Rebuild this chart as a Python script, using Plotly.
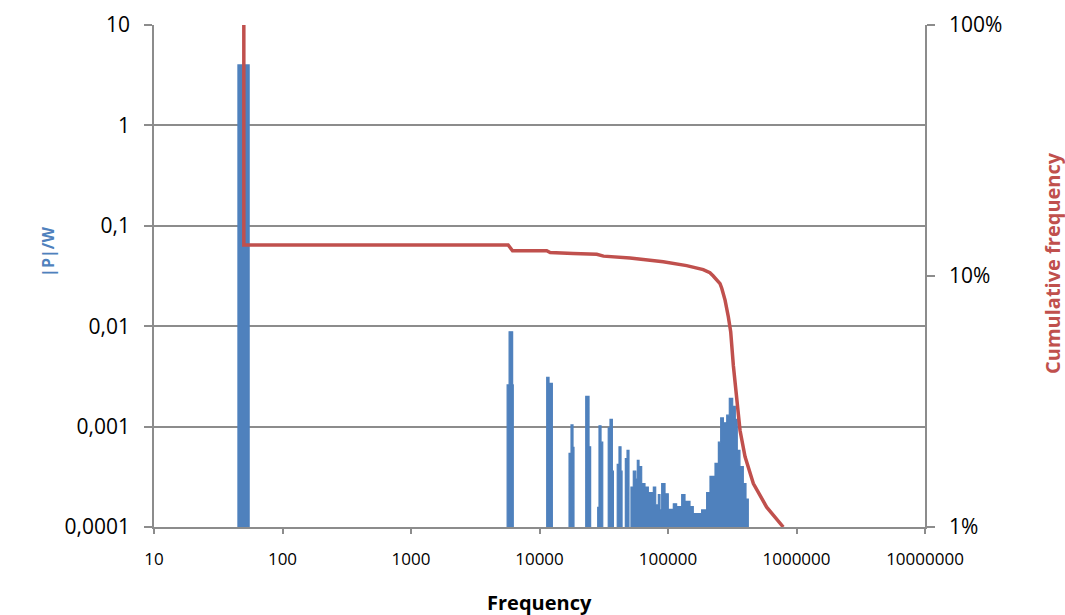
import plotly.graph_objects as go

BLUE = "#4F81BD"
RED = "#C0504D"
GRID = "#8C8C8C"

# ---- data -------------------------------------------------------------
FLOOR = 1e-6  # "no signal" level (below the visible axis range)

# spectrum: step start frequency (Hz) and |P|/W amplitude of each step
spec_freq = [10, 45, 55,
             5600, 5800, 6180, 6250,
             11380, 11860, 12590,
             16980, 17590, 18230, 18550,
             22900, 24290, 25000,
             28380, 29050, 30120, 31050,
             34270, 35370, 36900, 37600,
             40270, 41560, 43090, 43900,
             46560, 48000, 49700,
             51500, 53700, 56100, 57700, 59500, 62400, 66200, 70300, 76900,
             80200, 84100, 86700, 89300, 94800, 100500, 110000, 116700,
             127800, 135600, 148300, 157300, 167100, 182700, 199900, 212200,
             232200, 246600, 257000, 269800, 286400, 300000, 318600, 334100,
             346000, 363000, 385500, 404400, 421600]
spec_amp = [FLOOR, 4.0, FLOOR,
            0.0026, 0.0088, 0.0026, FLOOR,
            0.0031, 0.0027, FLOOR,
            0.00054, 0.00104, 0.00062, FLOOR,
            0.0020, 0.00063, FLOOR,
            0.000157, 0.00102, 0.00070, FLOOR,
            0.00097, 0.00118, 0.00036, FLOOR,
            0.00042, 0.00063, 0.00036, FLOOR,
            0.00048, 0.00058, FLOOR,
            0.00025, 0.00036, 0.00030, 0.00046, 0.00040, 0.00027, 0.00025, 0.00022, 0.00025,
            0.000166, 0.00021, 0.000148, 0.00027, 0.000214, 0.00015, 0.00017, 0.00016,
            0.00021, 0.00018, 0.00016, 0.000136, 0.000136, 0.000148, 0.00022, 0.00032,
            0.00043, 0.00070, 0.00122, 0.00109, 0.00130, 0.00191, 0.00159, 0.00118,
            0.00058, 0.00040, 0.00027, 0.00019, FLOOR]

# cumulative frequency curve
cum_freq = [50, 50, 5700, 6170, 11380, 12100, 18300, 27900, 31500, 50600,
            91800, 139600, 188000, 212000, 225000, 254000, 262000, 278000,
            294700, 307500, 322500, 342400, 363400, 397500, 461500, 586000, 789000]
cum_frac = [1.00, 0.133, 0.133, 0.126, 0.126, 0.124, 0.123, 0.122, 0.120, 0.118,
            0.114, 0.110, 0.106, 0.103, 0.100, 0.0933, 0.0894, 0.0802,
            0.0688, 0.0600, 0.0440, 0.0321, 0.0243, 0.0191, 0.0149, 0.0120, 0.0100]

x_tickvals = [10, 100, 1000, 10000, 100000, 1000000, 10000000]
x_ticktext = ["10", "100", "1000", "10000", "100000", "1000000", "10000000"]
y_tickvals = [0.0001, 0.001, 0.01, 0.1, 1, 10]
y_ticktext = ["0,0001", "0,001", "0,01", "0,1", "1", "10"]
y2_tickvals = [0.01, 0.1, 1]
y2_ticktext = ["1%", "10%", "100%"]

x_title = "Frequency"
y_title = "|P|/W"
y2_title = "Cumulative frequency"

# ---- figure -----------------------------------------------------------
fig = go.Figure()
fig.add_trace(go.Scatter(
    x=spec_freq, y=spec_amp, mode="lines", line=dict(shape="hv", width=1.2, color=BLUE),
    fill="tozeroy", fillcolor=BLUE, yaxis="y", showlegend=False, hoverinfo="skip"))
fig.add_trace(go.Scatter(
    x=cum_freq, y=cum_frac, mode="lines", line=dict(width=3.5, color=RED),
    yaxis="y2", showlegend=False))

font_family = "Open Sans"
fig.update_layout(
    width=1065, height=615,
    margin=dict(l=154, r=140, t=25, b=88, pad=0),
    paper_bgcolor="white", plot_bgcolor="white",
    font=dict(family=font_family, color="#000000"),
    xaxis=dict(
        type="log", range=[1, 7], tickvals=x_tickvals, ticktext=x_ticktext,
        automargin=False,
        showgrid=False, zeroline=False, showline=True, linecolor=GRID, linewidth=1.5,
        ticks="outside", ticklen=5, tickcolor=GRID, tickwidth=1.5,
        tickfont=dict(size=17, family=font_family), ticklabelstandoff=11,
    ),
    yaxis=dict(
        type="log", range=[-4, 1], tickvals=y_tickvals, ticktext=y_ticktext,
        automargin=False,
        showgrid=True, gridcolor=GRID, gridwidth=1.5, zeroline=False,
        showline=True, linecolor=GRID, linewidth=1.5,
        ticks="outside", ticklen=8, tickcolor=GRID, tickwidth=1.5,
        tickfont=dict(size=21, family=font_family), ticklabelstandoff=10,
    ),
    yaxis2=dict(
        type="log", range=[-2, 0], tickvals=y2_tickvals, ticktext=y2_ticktext,
        automargin=False,
        overlaying="y", side="right", showgrid=False, zeroline=False,
        showline=True, linecolor=GRID, linewidth=1.5,
        ticks="outside", ticklen=8, tickcolor=GRID, tickwidth=1.5,
        tickfont=dict(size=21, family=font_family), ticklabelstandoff=10,
    ),
    annotations=[
        dict(text="<b>" + x_title + "</b>", xref="paper", yref="paper", x=0.5, y=-0.150,
             xanchor="center", yanchor="middle", showarrow=False,
             font=dict(size=20, family=font_family, color="#000000")),
        dict(text="<b>" + y_title + "</b>", xref="paper", yref="paper", x=-0.1375, y=0.548,
             xanchor="center", yanchor="middle", showarrow=False, textangle=-90,
             font=dict(size=16, family=font_family, color=BLUE)),
        dict(text="<b>" + y2_title + "</b>", xref="paper", yref="paper", x=1.166, y=0.526,
             xanchor="center", yanchor="middle", showarrow=False, textangle=-90,
             font=dict(size=20, family=font_family, color=RED)),
    ],
)

# remove the default page margin so the figure sits at the window's top-left corner
fig.write_html("out.html", config={"displayModeBar": False},
               post_script="document.body.style.margin='0px';")
